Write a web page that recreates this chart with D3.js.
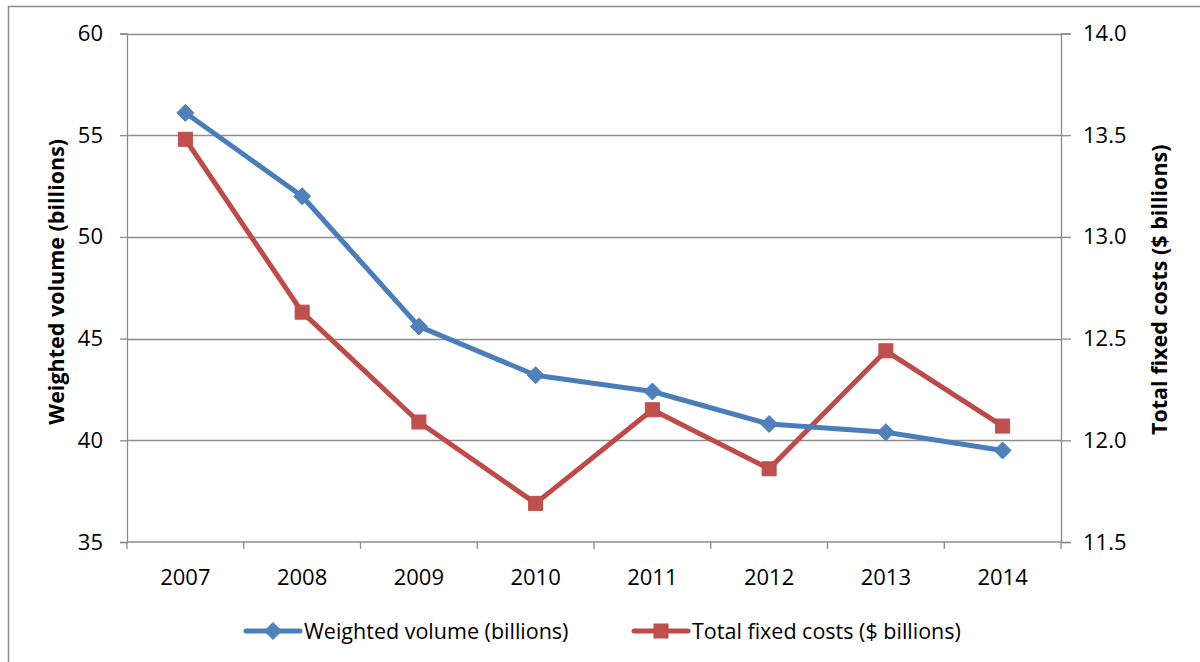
<!DOCTYPE html>
<html>
<head>
<meta charset="utf-8">
<script src="https://cdn.jsdelivr.net/npm/d3@7"></script>
<style>
  html, body { margin: 0; padding: 0; background: #fff; }
  svg { display: block; }
  text { font-family: "Open Sans", Lato, sans-serif; fill: #000; }
</style>
</head>
<body>
<svg id="chart" width="1200" height="662"></svg>
<script>
// Categories and series
const years = ["2007", "2008", "2009", "2010", "2011", "2012", "2013", "2014"];
const weightedVolume = [56.1, 52.0, 45.6, 43.2, 42.4, 40.8, 40.4, 39.5];
const fixedCosts = [13.48, 12.63, 12.09, 11.69, 12.15, 11.86, 12.44, 12.07];

// Axis ticks
const leftTicks = [35, 40, 45, 50, 55, 60];
const rightTicks = [11.5, 12.0, 12.5, 13.0, 13.5, 14.0];

const seriesNames = ["Weighted volume (billions)", "Total fixed costs ($ billions)"];
const leftTitle = "Weighted volume (billions)";
const rightTitle = "Total fixed costs ($ billions)";

const blue = "#4A7EBB", blueMarker = "#4F81BD";
const red = "#BE4B48", redMarker = "#C0504D";
const gridColor = "#8C8C8C";
const tickFont = "22px";

const svg = d3.select("#chart");
const plot = { left: 127, right: 1061, top: 33.5, bottom: 542 };

// Chart-area frame
svg.append("rect")
  .attr("x", 8.5).attr("y", 6.5)
  .attr("width", 1210).attr("height", 680)
  .attr("fill", "none").attr("stroke", "#8C8C8C").attr("stroke-width", 1.5);

const x = d3.scaleBand().domain(years).range([plot.left, plot.right]);
const yL = d3.scaleLinear().domain([35, 60]).range([plot.bottom, plot.top]);
const yR = d3.scaleLinear().domain([11.5, 14.0]).range([plot.bottom, plot.top]);

// Horizontal gridlines
svg.append("g")
  .selectAll("line")
  .data(leftTicks.filter(d => d !== 35))
  .join("line")
  .attr("x1", plot.left).attr("x2", plot.right)
  .attr("y1", d => Math.round(yL(d)) + 0.5).attr("y2", d => Math.round(yL(d)) + 0.5)
  .attr("stroke", gridColor).attr("stroke-width", 1.3);

// Left axis
const gLeft = svg.append("g")
  .attr("transform", `translate(${plot.left},0)`)
  .call(d3.axisLeft(yL).tickValues(leftTicks).tickSize(7).tickPadding(17).tickFormat(d3.format("d")));
gLeft.select(".domain").attr("stroke", gridColor).attr("stroke-width", 1.3);
gLeft.selectAll(".tick line").attr("stroke", gridColor).attr("stroke-width", 1.3);
gLeft.selectAll(".tick text").style("font-size", tickFont).style("font-family", "'Open Sans', sans-serif").attr("fill", "#000");

// Right axis
const gRight = svg.append("g")
  .attr("transform", `translate(${plot.right},0)`)
  .call(d3.axisRight(yR).tickValues(rightTicks).tickSize(10).tickPadding(12).tickFormat(d3.format(".1f")));
gRight.select(".domain").attr("stroke", gridColor).attr("stroke-width", 1.3);
gRight.selectAll(".tick line").attr("stroke", gridColor).attr("stroke-width", 1.3);
gRight.selectAll(".tick text").style("font-size", tickFont).style("font-family", "'Open Sans', sans-serif").attr("fill", "#000");

// Bottom axis with ticks on category boundaries
const gBottom = svg.append("g")
  .attr("transform", `translate(0,${plot.bottom})`);
gBottom.append("line")
  .attr("x1", plot.left).attr("x2", plot.right)
  .attr("y1", 0).attr("y2", 0)
  .attr("stroke", gridColor).attr("stroke-width", 1.3);
gBottom.selectAll("line.tk")
  .data(years.map(d => x(d)).concat([x(years[years.length - 1]) + x.bandwidth()]))
  .join("line").attr("class", "tk")
  .attr("x1", d => d).attr("x2", d => d)
  .attr("y1", 0).attr("y2", 7)
  .attr("stroke", gridColor).attr("stroke-width", 1.3);
gBottom.selectAll("text")
  .data(years)
  .join("text")
  .attr("x", d => x(d) + x.bandwidth() / 2)
  .attr("y", 43)
  .attr("text-anchor", "middle")
  .style("font-size", tickFont)
  .text(d => d);

// Axis titles
svg.append("text")
  .attr("transform", `translate(64,${(plot.top + plot.bottom) / 2 - 6}) rotate(-90)`)
  .attr("text-anchor", "middle")
  .style("font-size", "21.5px").style("font-weight", "bold")
  .text(leftTitle);
svg.append("text")
  .attr("transform", `translate(1167,${(plot.top + plot.bottom) / 2 + 2}) rotate(-90)`)
  .attr("text-anchor", "middle")
  .style("font-size", "21.5px").style("font-weight", "bold")
  .text(rightTitle);

const cx = d => x(d) + x.bandwidth() / 2;

// Lines
const lineL = d3.line().x((d, i) => cx(years[i])).y(d => yL(d));
const lineR = d3.line().x((d, i) => cx(years[i])).y(d => yR(d));

svg.append("path").datum(fixedCosts)
  .attr("d", lineR).attr("fill", "none")
  .attr("stroke", red).attr("stroke-width", 5).attr("stroke-linejoin", "round").attr("stroke-linecap", "round");
svg.append("path").datum(weightedVolume)
  .attr("d", lineL).attr("fill", "none")
  .attr("stroke", blue).attr("stroke-width", 5).attr("stroke-linejoin", "round").attr("stroke-linecap", "round");

// Markers
const diamond = s => `M0,${-s}L${s},0L0,${s}L${-s},0Z`;
svg.append("g").selectAll("path")
  .data(weightedVolume)
  .join("path")
  .attr("transform", (d, i) => `translate(${cx(years[i])},${yL(d)})`)
  .attr("d", diamond(8.5))
  .attr("fill", blueMarker).attr("stroke", blue).attr("stroke-width", 1);
svg.append("g").selectAll("rect")
  .data(fixedCosts)
  .join("rect")
  .attr("x", (d, i) => cx(years[i]) - 7)
  .attr("y", d => yR(d) - 7)
  .attr("width", 14).attr("height", 14)
  .attr("fill", redMarker).attr("stroke", red).attr("stroke-width", 1);

// Legend
const legendY = 631;
const legendItems = [
  { name: seriesNames[0], x0: 246, color: blue, fill: blueMarker, marker: "diamond" },
  { name: seriesNames[1], x0: 634, color: red, fill: redMarker, marker: "square" }
];
const lg = svg.append("g");
legendItems.forEach(it => {
  const g = lg.append("g");
  g.append("line")
    .attr("x1", it.x0).attr("x2", it.x0 + 54)
    .attr("y1", legendY).attr("y2", legendY)
    .attr("stroke", it.color).attr("stroke-width", 5).attr("stroke-linecap", "round");
  if (it.marker === "diamond") {
    g.append("path")
      .attr("transform", `translate(${it.x0 + 27},${legendY})`)
      .attr("d", diamond(8.5)).attr("fill", it.fill).attr("stroke", it.color);
  } else {
    g.append("rect")
      .attr("x", it.x0 + 20).attr("y", legendY - 7)
      .attr("width", 14).attr("height", 14)
      .attr("fill", it.fill).attr("stroke", it.color);
  }
  g.append("text")
    .attr("x", it.x0 + 58).attr("y", legendY + 8)
    .style("font-size", "21.5px")
    .text(it.name);
});
</script>
</body>
</html>
